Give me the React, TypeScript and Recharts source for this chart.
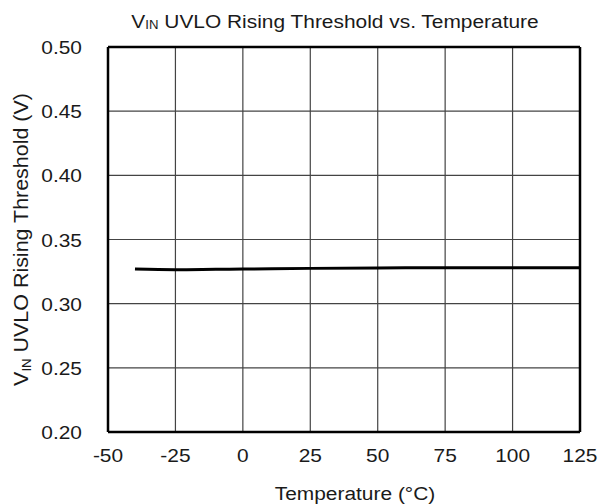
import React from 'react';
import { LineChart, Line, XAxis, YAxis, CartesianGrid } from 'recharts';

const temps = [-40, -25, -10, 0, 25, 50, 75, 100, 125];
const threshold = [0.327, 0.3265, 0.3268, 0.327, 0.3275, 0.3278, 0.328, 0.328, 0.328];
const xTicks = [-50, -25, 0, 25, 50, 75, 100, 125];
const yTicks = [0.2, 0.25, 0.3, 0.35, 0.4, 0.45, 0.5];

const data = temps.map((t, i) => ({ t, v: threshold[i] }));

const FONT = '"Liberation Sans", Arial, sans-serif';
const INK = '#1a1a1a';
const SX = 1.1; // the source font renders a touch wider than Arial

// text with slightly widened glyphs
const WideText = ({ x, y, anchor = 'middle', size = 19, rotate = 0, children }: any) => (
  <text
    transform={`translate(${x},${y}) rotate(${rotate}) scale(${SX},1)`}
    textAnchor={anchor}
    style={{ fontFamily: FONT, fontSize: size, fill: INK }}
  >
    {children}
  </text>
);

const YTick = (props: any) => {
  const { x, y, payload } = props;
  return (
    <WideText x={x} y={y + 7} anchor="end">
      {Number(payload.value).toFixed(2)}
    </WideText>
  );
};

const XTick = (props: any) => {
  const { x, y, payload } = props;
  return (
    <WideText x={x} y={y + 30}>
      {payload.value}
    </WideText>
  );
};

const YLabel = (props: any) => {
  const { viewBox } = props;
  const cy = viewBox.y + viewBox.height / 2;
  return (
    <WideText x={28} y={cy} rotate={-90} size={19.5}>
      V<tspan fontSize={12} dy={3}>IN</tspan>
      <tspan dy={-3}> UVLO Rising Threshold (V)</tspan>
    </WideText>
  );
};

const XLabel = (props: any) => {
  const { viewBox } = props;
  const cx = viewBox.x + viewBox.width / 2;
  return (
    <WideText x={cx + 11} y={viewBox.y + 68}>
      Temperature (°C)
    </WideText>
  );
};

export default function App() {
  return (
    <div style={{ position: 'absolute', left: 0, top: 0, width: 598, height: 504, background: '#fff' }}>
      <LineChart width={598} height={504} data={data} margin={{ top: 46, right: 17, bottom: 42, left: 48 }}>
        <CartesianGrid xAxisId="b" yAxisId="l" stroke="#444" strokeWidth={1.2} />
        <XAxis
          xAxisId="b"
          dataKey="t"
          type="number"
          domain={[-50, 125]}
          ticks={xTicks}
          tick={<XTick />}
          tickLine={false}
          tickSize={0}
          tickMargin={0}
          axisLine={{ stroke: '#000', strokeWidth: 2.5 }}
          label={<XLabel />}
          height={30}
        />
        <XAxis
          xAxisId="top"
          orientation="top"
          dataKey="t"
          type="number"
          domain={[-50, 125]}
          ticks={xTicks}
          tick={false}
          tickLine={false}
          axisLine={{ stroke: '#000', strokeWidth: 2.5 }}
          height={1}
        />
        <YAxis
          yAxisId="l"
          type="number"
          domain={[0.2, 0.5]}
          ticks={yTicks}
          tick={<YTick />}
          tickLine={false}
          tickSize={0}
          tickMargin={26}
          axisLine={{ stroke: '#000', strokeWidth: 2.5 }}
          width={60}
          label={<YLabel />}
        />
        <YAxis
          yAxisId="r"
          orientation="right"
          type="number"
          domain={[0.2, 0.5]}
          ticks={yTicks}
          tick={false}
          tickLine={false}
          axisLine={{ stroke: '#000', strokeWidth: 2.5 }}
          width={1}
        />
        <Line
          xAxisId="b"
          yAxisId="l"
          dataKey="v"
          type="monotone"
          stroke="#000"
          strokeWidth={3}
          dot={false}
          isAnimationActive={false}
        />
      </LineChart>
      <svg width={598} height={40} style={{ position: 'absolute', left: 0, top: 0, pointerEvents: 'none' }}>
        <WideText x={335} y={28}>
          V<tspan fontSize={12} dy={1}>IN</tspan>
          <tspan dy={-1}> UVLO Rising Threshold vs. Temperature</tspan>
        </WideText>
      </svg>
    </div>
  );
}
